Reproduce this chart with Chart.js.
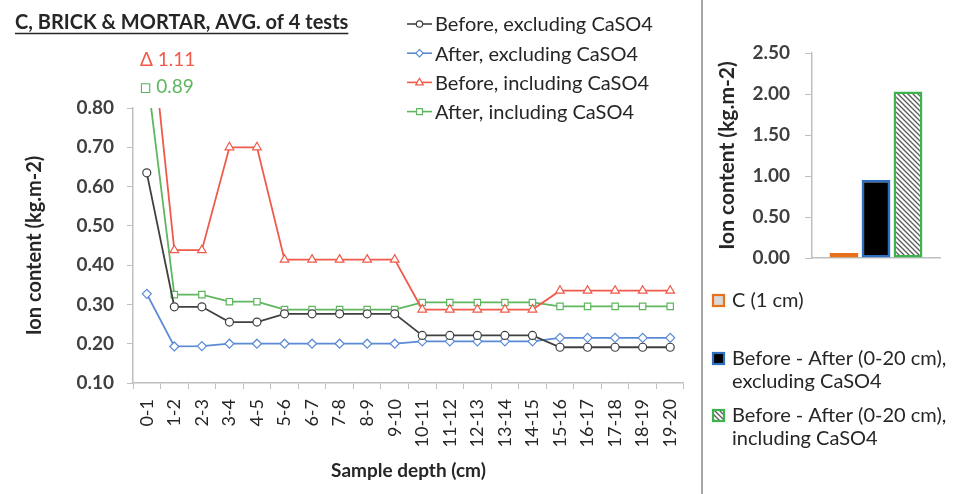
<!DOCTYPE html>
<html>
<head>
<meta charset="utf-8">
<script src="https://cdn.jsdelivr.net/npm/chart.js@4.4.1/dist/chart.umd.min.js"></script>
<style>
  html, body { margin: 0; padding: 0; background: #fff; }
  #wrap { position: relative; width: 958px; height: 494px; overflow: hidden; background: #fff; }
  #left { position: absolute; left: 0; top: 0; }
  #right { position: absolute; left: 704px; top: 0; }
  #sep { position: absolute; left: 701px; top: 0; width: 2px; height: 494px; background: #a6a6a6; }
</style>
</head>
<body>
<div id="wrap">
  <canvas id="left" width="702" height="494"></canvas>
  <div id="sep"></div>
  <canvas id="right" width="254" height="494"></canvas>
</div>
<script>
// Sample depths (cm)
const depths = ['0-1','1-2','2-3','3-4','4-5','5-6','6-7','7-8','8-9','9-10',
                '10-11','11-12','12-13','13-14','14-15','15-16','16-17','17-18','18-19','19-20'];

// Ion content per depth slice (kg.m-2)
const beforeExcl = [0.635,0.294,0.294,0.255,0.255,0.276,0.276,0.276,0.276,0.276,
                    0.221,0.221,0.221,0.221,0.221,0.191,0.191,0.191,0.191,0.191];
const afterExcl  = [0.327,0.193,0.194,0.200,0.200,0.200,0.200,0.200,0.200,0.200,
                    0.206,0.206,0.206,0.206,0.206,0.215,0.215,0.215,0.215,0.215];
const beforeIncl = [1.11,0.438,0.438,0.700,0.700,0.414,0.414,0.414,0.414,0.414,
                    0.287,0.287,0.287,0.287,0.287,0.335,0.335,0.335,0.335,0.335];
const afterIncl  = [0.89,0.325,0.325,0.307,0.307,0.287,0.287,0.287,0.287,0.287,
                    0.305,0.305,0.305,0.305,0.305,0.295,0.295,0.295,0.295,0.295];

const lineNames = ['Before, excluding CaSO4','After, excluding CaSO4',
                   'Before, including CaSO4','After, including CaSO4'];

// Totals for the summary bars (kg.m-2)
const diffNames  = [['C (1 cm)'],
                    ['Before - After (0-20 cm),','excluding CaSO4'],
                    ['Before - After (0-20 cm),','including CaSO4']];
const diffValues = [0.06, 0.95, 2.03];

const leftTicks  = [0.10,0.20,0.30,0.40,0.50,0.60,0.70,0.80];
const rightTicks = [0.00,0.50,1.00,1.50,2.00,2.50];

const FONT = 'Lato';
const TXT = '#262626';
const AXIS = '#bfbfbf';

const C_BLACK = '#404040', C_BLUE = '#5a8ad6', C_RED = '#f05a4a', C_GREEN = '#5fb65f';

// diagonal hatch for the third bar
function hatch() {
  const c = document.createElement('canvas');
  c.width = 5; c.height = 5;
  const g = c.getContext('2d');
  g.fillStyle = '#ffffff'; g.fillRect(0, 0, 5, 5);
  g.strokeStyle = '#5a5a5a'; g.lineWidth = 1.3;
  g.beginPath();
  g.moveTo(-1, -1); g.lineTo(6, 6);
  g.moveTo(-1, 4); g.lineTo(1, 6);
  g.moveTo(4, -1); g.lineTo(6, 1);
  g.stroke();
  return g.createPattern(c, 'repeat');
}

function marker(ctx, style, x, y, r, color) {
  ctx.save();
  ctx.fillStyle = '#fff'; ctx.strokeStyle = color; ctx.lineWidth = 1.2;
  ctx.beginPath();
  if (style === 'circle') {
    ctx.arc(x, y, r, 0, Math.PI * 2);
  } else if (style === 'rectRot') {
    ctx.moveTo(x, y - r); ctx.lineTo(x + r, y); ctx.lineTo(x, y + r); ctx.lineTo(x - r, y); ctx.closePath();
  } else if (style === 'triangle') {
    ctx.moveTo(x, y - r); ctx.lineTo(x + r * 0.9, y + r * 0.6); ctx.lineTo(x - r * 0.9, y + r * 0.6); ctx.closePath();
  } else {
    ctx.rect(x - r * 0.8, y - r * 0.8, r * 1.6, r * 1.6);
  }
  ctx.fill(); ctx.stroke();
  ctx.restore();
}

const series = [
  { data: beforeExcl, color: C_BLACK, style: 'circle',   r: 4 },
  { data: afterExcl,  color: C_BLUE,  style: 'rectRot',  r: 4.5 },
  { data: beforeIncl, color: C_RED,   style: 'triangle', r: 5 },
  { data: afterIncl,  color: C_GREEN, style: 'rect',     r: 4.5 }
];

// title, legend and off-scale value notes for the depth profile
const profileDecor = {
  id: 'profileDecor',
  afterDraw(chart) {
    const ctx = chart.ctx;
    ctx.save();
    // title
    ctx.font = `bold 20px ${FONT}`;
    ctx.fillStyle = TXT;
    ctx.textBaseline = 'alphabetic';
    ctx.textAlign = 'left';
    const title = 'C, BRICK & MORTAR, AVG. of 4 tests';
    ctx.fillText(title, 15, 29);
    const w = ctx.measureText(title).width;
    ctx.strokeStyle = TXT; ctx.lineWidth = 1.4;
    ctx.beginPath(); ctx.moveTo(15, 33.5); ctx.lineTo(15 + w, 33.5); ctx.stroke();

    // legend
    ctx.font = `20px ${FONT}`;
    ctx.textBaseline = 'middle';
    series.forEach((s, i) => {
      const y = 24 + i * 29.2;
      ctx.strokeStyle = s.color; ctx.lineWidth = 1.6;
      ctx.beginPath(); ctx.moveTo(407, y); ctx.lineTo(432, y); ctx.stroke();
      marker(ctx, s.style, 419.5, y, s.r - 0.8, s.color);
      ctx.fillStyle = TXT;
      ctx.fillText(lineNames[i], 435, y + 1);
    });

    // values of the first slice that lie above the axis maximum
    ctx.font = `19px ${FONT}`;
    ctx.fillStyle = C_RED;
    ctx.fillText('\u0394 ' + beforeIncl[0].toFixed(2), 140, 60);
    ctx.fillStyle = C_GREEN;
    ctx.fillText('\u25A1 ' + afterIncl[0].toFixed(2), 140, 87);
    ctx.restore();
  }
};

new Chart(document.getElementById('left'), {
  type: 'line',
  data: {
    labels: depths,
    datasets: series.map((s, i) => ({
      label: lineNames[i],
      data: s.data,
      borderColor: s.color,
      borderWidth: 1.8,
      pointStyle: s.style,
      pointRadius: s.r,
      pointBorderWidth: 1.2,
      pointBorderColor: s.color,
      pointBackgroundColor: '#ffffff',
      tension: 0
    }))
  },
  options: {
    responsive: false,
    animation: false,
    layout: { padding: { top: 108, right: 8, left: 0, bottom: 0 } },
    plugins: { legend: { display: false }, tooltip: { enabled: false } },
    scales: {
      x: {
        offset: true,
        grid: { offset: true, drawOnChartArea: false, tickLength: 6, color: AXIS },
        border: { color: AXIS, width: 1.5 },
        ticks: { minRotation: 90, maxRotation: 90, autoSkip: false, padding: 10,
                 color: TXT, font: { family: FONT, size: 18 } },
        title: { display: true, text: 'Sample depth (cm)', color: TXT,
                 font: { family: FONT, size: 19, weight: 'bold' }, padding: { top: 0, bottom: 12 } },
        afterFit(s) { s.height = 111; }
      },
      y: {
        min: leftTicks[0], max: leftTicks[leftTicks.length - 1],
        afterBuildTicks(s) { s.ticks = leftTicks.map(v => ({ value: v })); },
        grid: { drawOnChartArea: false, tickLength: 6, color: AXIS },
        border: { color: AXIS, width: 1.5 },
        ticks: { padding: 13, color: '#404040', callback: v => Number(v).toFixed(2),
                 font: { family: FONT, size: 19, weight: 'bold' } },
        title: { display: true, text: 'Ion content (kg.m-2)', color: TXT,
                 font: { family: FONT, size: 20, weight: 'bold' }, padding: { top: 23, bottom: 0 } },
        afterFit(s) { s.width = 133; }
      }
    }
  },
  plugins: [profileDecor]
});

// summary bars
const barFill   = ['#d9d9d9', '#000000', hatch()];
const barBorder = ['#e8711a', '#2f6fbf', '#3cb44b'];

const summaryLegend = {
  id: 'summaryLegend',
  afterDraw(chart) {
    const ctx = chart.ctx;
    ctx.save();
    ctx.font = `20px ${FONT}`;
    ctx.fillStyle = TXT;
    ctx.textBaseline = 'middle';
    ctx.textAlign = 'left';
    const rows = [300, 358, 415];
    diffNames.forEach((lines, i) => {
      const y = rows[i];
      ctx.fillStyle = barFill[i];
      ctx.fillRect(9, y - 5, 11, 11);
      ctx.strokeStyle = barBorder[i]; ctx.lineWidth = 2.2;
      ctx.strokeRect(9, y - 5, 11, 11);
      ctx.fillStyle = TXT;
      lines.forEach((t, k) => ctx.fillText(t, 28, y + 1 + k * 23));
    });
    ctx.restore();
  }
};

new Chart(document.getElementById('right'), {
  type: 'bar',
  data: {
    labels: [''],
    datasets: diffNames.map((n, i) => ({
      label: n.join(' '),
      data: [diffValues[i]],
      backgroundColor: barFill[i],
      borderColor: barBorder[i],
      borderWidth: 2.5,
      borderSkipped: false,
      categoryPercentage: 0.75,
      barPercentage: 0.9
    }))
  },
  options: {
    responsive: false,
    animation: false,
    layout: { padding: { top: 53, right: 18, left: 0, bottom: 0 } },
    plugins: { legend: { display: false }, tooltip: { enabled: false } },
    scales: {
      x: {
        grid: { display: false },
        border: { color: AXIS, width: 1.5 },
        ticks: { display: false },
        afterFit(s) { s.height = 494 - 258; }
      },
      y: {
        min: rightTicks[0], max: rightTicks[rightTicks.length - 1],
        afterBuildTicks(s) { s.ticks = rightTicks.map(v => ({ value: v })); },
        grid: { drawOnChartArea: false, tickLength: 7, color: AXIS },
        border: { color: AXIS, width: 1.5 },
        ticks: { padding: 15, color: '#404040', callback: v => Number(v).toFixed(2),
                 font: { family: FONT, size: 19, weight: 'bold' } },
        title: { display: true, text: 'Ion content (kg.m-2)', color: TXT,
                 font: { family: FONT, size: 21, weight: 'bold' }, padding: { top: 11, bottom: 0 } },
        afterFit(s) { s.width = 108; }
      }
    }
  },
  plugins: [summaryLegend]
});
</script>
</body>
</html>
